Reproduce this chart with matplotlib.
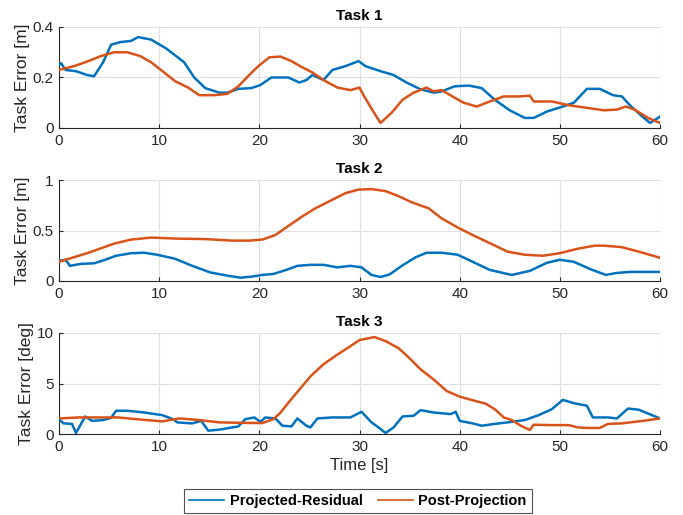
import matplotlib
matplotlib.use("Agg")
import matplotlib.pyplot as plt
import numpy as np

plt.rcParams['font.family'] = ['Liberation Sans', 'DejaVu Sans']

# ---- Task 1 ----
t1_blue = [0, 0.2, 0.65, 1.7, 2.8, 3.5, 4.4, 5.2, 6.1, 7.2, 7.9, 9.2, 10.7, 12.5, 13.5, 14.6, 16, 16.8,
           17.9, 19.2, 20.1, 21.2, 22.9, 24, 24.7, 25.3, 26.4, 27.3, 28.6, 29.9, 30.6, 32.1, 33.4, 34.7,
           36.1, 37.4, 38.2, 39.5, 40.9, 42.2, 43.5, 45, 46.5, 47.4, 48.7, 50.3, 51.4, 52.7, 54, 55.3,
           56.2, 57, 58.1, 59, 60]
v1_blue = [0.25, 0.257, 0.23, 0.225, 0.21, 0.205, 0.26, 0.33, 0.34, 0.345, 0.36, 0.35, 0.315, 0.26, 0.2,
           0.158, 0.14, 0.14, 0.155, 0.158, 0.17, 0.2, 0.2, 0.18, 0.19, 0.21, 0.19, 0.23, 0.245, 0.265,
           0.245, 0.225, 0.21, 0.18, 0.153, 0.14, 0.145, 0.165, 0.168, 0.158, 0.112, 0.07, 0.04, 0.04,
           0.065, 0.085, 0.1, 0.155, 0.155, 0.13, 0.125, 0.09, 0.05, 0.02, 0.045]
t1_orange = [0, 1.5, 2.8, 4.2, 5.5, 6.8, 8.1, 9.2, 10.5, 11.6, 12.9, 14, 15.5, 16.8, 17.9, 19, 19.9, 21,
             22.1, 23.2, 24.3, 25.3, 26.4, 27.8, 29.1, 30, 30.4, 31.3, 32.1, 33.2, 34.3, 35.4, 36.7, 37.4,
             38.2, 39.5, 40.4, 41.7, 43, 44.4, 45.9, 47, 47.4, 49.2, 50.9, 52.7, 54.4, 55.7, 56.6, 57.5,
             58.8, 60]
v1_orange = [0.23, 0.245, 0.263, 0.285, 0.3, 0.3, 0.285, 0.26, 0.22, 0.185, 0.16, 0.13, 0.13, 0.135, 0.165,
             0.21, 0.245, 0.28, 0.283, 0.265, 0.24, 0.22, 0.19, 0.16, 0.15, 0.16, 0.13, 0.07, 0.02, 0.06,
             0.112, 0.14, 0.16, 0.145, 0.15, 0.12, 0.1, 0.085, 0.105, 0.125, 0.125, 0.128, 0.105, 0.105,
             0.09, 0.08, 0.07, 0.073, 0.085, 0.072, 0.04, 0.02]

# ---- Task 2 ----
t2_blue = [0, 0.65, 1.1, 2.2, 3.5, 4.6, 5.7, 7.2, 8.5, 9.8, 11.6, 13.3, 15.1, 16.8, 18.1, 19.2, 20.3, 21.4,
           22.7, 23.8, 25.1, 26.4, 27.8, 29.1, 30.2, 31.2, 32.1, 33, 34.3, 35.6, 36.7, 38.2, 39.8, 41.3,
           43, 45.2, 47, 48.7, 50, 51.4, 53.1, 54.6, 55.7, 57, 58.3, 60]
v2_blue = [0.2, 0.21, 0.15, 0.17, 0.175, 0.21, 0.25, 0.275, 0.28, 0.26, 0.22, 0.15, 0.085, 0.053, 0.033,
           0.043, 0.06, 0.07, 0.11, 0.15, 0.16, 0.16, 0.135, 0.15, 0.135, 0.06, 0.04, 0.065, 0.155, 0.235,
           0.28, 0.28, 0.26, 0.19, 0.11, 0.06, 0.1, 0.18, 0.21, 0.19, 0.115, 0.06, 0.08, 0.09, 0.09, 0.09]
t2_orange = [0, 2.8, 5.5, 7.2, 9.2, 11.6, 14.6, 17.3, 19, 20.3, 21.6, 22.9, 24.3, 25.6, 27.3, 28.6, 29.9,
             31.2, 32.6, 33.9, 35.2, 36.9, 38.2, 39.8, 41.3, 43, 44.8, 46.5, 48.3, 50, 51.8, 53.5, 54.4,
             56.2, 57.9, 60]
v2_orange = [0.19, 0.275, 0.37, 0.41, 0.43, 0.42, 0.415, 0.4, 0.4, 0.41, 0.455, 0.545, 0.64, 0.72, 0.805,
             0.87, 0.905, 0.91, 0.89, 0.84, 0.78, 0.72, 0.62, 0.53, 0.455, 0.375, 0.29, 0.26, 0.25, 0.275,
             0.32, 0.35, 0.35, 0.335, 0.29, 0.23]

# ---- Task 3 ----
t3_blue = [0, 0.45, 1.3, 1.7, 2.2, 2.6, 3.3, 4.4, 5.2, 5.7, 6.8, 8.5, 10.3, 11.4, 11.8, 13.3, 14.2, 14.9,
           16, 17.9, 18.6, 19.5, 20.1, 20.6, 21.6, 22.3, 23.2, 23.8, 24.7, 25.1, 25.8, 27.3, 29.1, 30.2,
           31.2, 31.9, 32.6, 33.4, 34.3, 35.4, 36.1, 37.4, 39.1, 39.6, 40, 41.3, 42.2, 43.5, 44.8, 46.5,
           47.9, 49.2, 50.3, 51.4, 52.7, 53.3, 54.8, 55.7, 56.8, 57.9, 60]
v3_blue = [1.47, 1.05, 1.0, 0.1, 1.0, 1.74, 1.3, 1.38, 1.6, 2.3, 2.3, 2.13, 1.87, 1.47, 1.15, 1.05, 1.3,
           0.33, 0.43, 0.75, 1.47, 1.64, 1.2, 1.64, 1.54, 0.82, 0.75, 1.54, 0.82, 0.65, 1.54, 1.64, 1.64,
           2.2, 1.15, 0.65, 0.1, 0.65, 1.74, 1.8, 2.36, 2.13, 1.97, 2.2, 1.3, 1.05, 0.82, 1.0, 1.15, 1.38,
           1.87, 2.46, 3.38, 3.05, 2.8, 1.64, 1.64, 1.54, 2.52, 2.4, 1.54]
t3_orange = [0, 2, 5.9, 8.5, 10.3, 12, 13.8, 16, 18.6, 20.3, 21.4, 22.1, 22.9, 24, 25.1, 26.4, 27.7, 29.1,
             30, 31.5, 32.6, 33.9, 35, 36.1, 37.4, 38.7, 40, 41.3, 42.6, 43.5, 44.4, 45.2, 46.1, 47, 47.4,
             49.2, 50.9, 51.8, 52.7, 54, 54.8, 56.2, 57, 58.3, 60]
v3_orange = [1.54, 1.64, 1.64, 1.4, 1.25, 1.54, 1.4, 1.15, 1.1, 1.08, 1.47, 2.1, 3.1, 4.4, 5.7, 6.9, 7.8,
             8.7, 9.3, 9.6, 9.2, 8.5, 7.5, 6.4, 5.4, 4.26, 3.7, 3.34, 3.0, 2.46, 1.64, 1.38, 0.82, 0.4,
             0.92, 0.88, 0.88, 0.65, 0.6, 0.6, 1.0, 1.05, 1.15, 1.3, 1.54]

titles = ["Task 1", "Task 2", "Task 3"]
ylabels = ["Task Error [m]", "Task Error [m]", "Task Error [deg]"]
yticks = [[0, 0.2, 0.4], [0, 0.5, 1], [0, 5, 10]]
yticklabels = [["0", "0.2", "0.4"], ["0", "0.5", "1"], ["0", "5", "10"]]
ylims = [(0, 0.4), (0, 1), (0, 10)]
xticks = [0, 10, 20, 30, 40, 50, 60]
labels = ["Projected-Residual", "Post-Projection"]
blue = "#0072BD"
orange = "#D95319"

data = [(t1_blue, v1_blue, t1_orange, v1_orange),
        (t2_blue, v2_blue, t2_orange, v2_orange),
        (t3_blue, v3_blue, t3_orange, v3_orange)]

W, H = 683, 515
fig = plt.figure(figsize=(W / 100, H / 100), dpi=100)
tops = [27, 180, 333]
bottoms = [128, 281, 434]
left, right = 59, 660

axes = []
for i in range(3):
    ax = fig.add_axes([left / W, 1 - bottoms[i] / H, (right - left) / W, (bottoms[i] - tops[i]) / H])
    tb, vb, to, vo = data[i]
    lb, = ax.plot(tb, vb, color=blue, lw=1.8, label=labels[0], zorder=3)
    lo, = ax.plot(to, vo, color=orange, lw=1.8, label=labels[1], zorder=3)
    ax.set_xlim(0, 60)
    ax.set_ylim(*ylims[i])
    ax.set_xticks(xticks)
    ax.set_xticklabels([str(x) for x in xticks])
    ax.set_yticks(yticks[i])
    ax.set_yticklabels(yticklabels[i])
    ax.grid(True, color="#DFDFDF", lw=0.8)
    ax.set_axisbelow(True)
    for s in ["top", "right"]:
        ax.spines[s].set_visible(False)
    for s in ["left", "bottom"]:
        ax.spines[s].set_color("#262626")
        ax.spines[s].set_linewidth(0.8)
    ax.tick_params(direction="in", length=3, width=0.8, color="#262626",
                   labelsize=11, labelcolor="#262626", pad=4)
    ax.set_title(titles[i], fontsize=11, fontweight="bold", pad=5)
    ax.set_ylabel(ylabels[i], fontsize=12.5, color="#262626", labelpad=2)
    axes.append(ax)

axes[2].set_xlabel("Time [s]", fontsize=12, color="#262626", labelpad=3)

leg = fig.legend(handles=[lb, lo], labels=labels, loc="center",
                 bbox_to_anchor=(358 / W, 1 - 501 / H), ncol=2, frameon=True,
                 fancybox=False, edgecolor="#262626", handlelength=2.4, handletextpad=0.4,
                 columnspacing=1.0, borderpad=0.35, borderaxespad=0,
                 prop={"weight": "bold", "size": 10.5})
leg.get_frame().set_linewidth(0.8)
for h in leg.get_lines():
    h.set_linewidth(1.2)

fig.savefig("out.png", dpi=100)
